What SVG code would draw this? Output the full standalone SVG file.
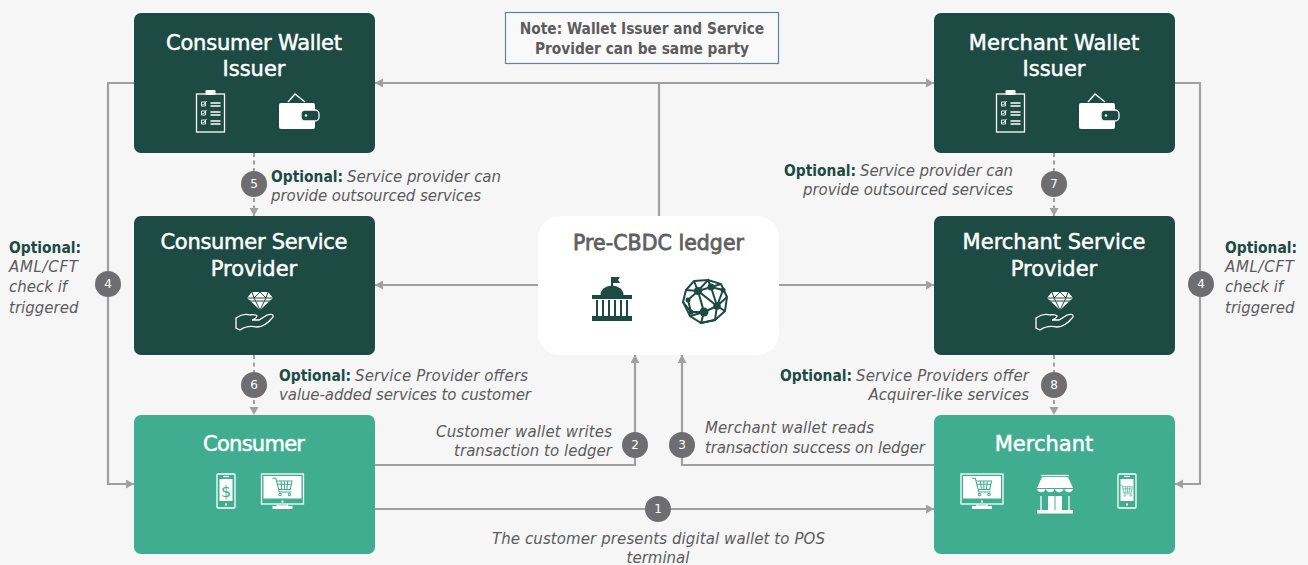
<svg xmlns="http://www.w3.org/2000/svg" width="1308" height="565" viewBox="0 0 1308 565">
<style>
text{font-family:"DejaVu Sans","Noto Sans",sans-serif}
.bg{fill:#f6f6f6}
.dk{fill:#1d4a43}.lt{fill:#40ad90}
.t{font-size:21px;font-weight:500;fill:#fff;text-anchor:middle;stroke:#fff;stroke-width:.5px}
.c{fill:none;stroke:#a0a0a0;stroke-width:2.2}
.d{stroke-dasharray:4 3.5;stroke-width:2}
.b circle{fill:#6e6e70}.b text{fill:#fff;font-size:12px;text-anchor:middle}
.l{font-size:15px;fill:#5c5c5c;font-style:italic}
.o{font-family:"DejaVu Sans Condensed","DejaVu Sans",sans-serif;font-stretch:condensed;font-size:15.4px;font-weight:bold;font-style:normal;fill:#1d4a43}
.n{font-family:"DejaVu Sans Condensed","DejaVu Sans",sans-serif;font-stretch:condensed;font-size:15.3px;font-weight:bold;fill:#5c5c5c;text-anchor:middle}
.e{text-anchor:end}.m{text-anchor:middle}
.w{fill:#fff}.wl{fill:none;stroke:#fff;stroke-width:1.3}
.gl{fill:none;stroke:#40ad90;stroke-width:1.2}
.ld{fill:#1d4a43}.ldl{fill:none;stroke:#1d4a43;stroke-width:2}
</style>
<defs>
<marker id="a" markerUnits="userSpaceOnUse" markerWidth="10" markerHeight="10" refX="8" refY="4.500" orient="auto"><path d="M0 0L8 4.500L0 9z" fill="#a0a0a0"/></marker>
<g id="clip"><rect x="-14" y="-19" width="28" height="38" class="wl"/><rect x="-5" y="-23" width="10" height="5" rx="1" class="w"/><path d="M-9-11H-5V-7H-9zM-9-2H-5V2H-9zM-9 7H-5V11H-9z" fill="none" stroke="#fff" stroke-width=".9"/><path d="M-8-9L-7-8L-4-12M-8 0L-7 1L-4-3M-8 9L-7 10L-4 6" fill="none" stroke="#fff" stroke-width=".9"/><path d="M0-10H10M0-7H10M0-1H10M0 2H10M0 8H10M0 11H10" class="wl" stroke-width="1"/></g>
<g id="wallet"><rect x="-20" y="-12" width="36" height="26" rx="2" class="w"/><rect x="2" y="-5" width="18" height="11" rx="4" class="dk" stroke="#fff" stroke-width="1.300"/><circle cx="7" cy="0.500" r="1.200" class="w"/><path d="M-11-13L-4-21L6-13" class="wl" stroke-width="1"/></g>
<g id="hand"><path d="M-19 11V21L-15 23Q-8 18 2 20Q10 20 18 10Q19 6 12 8L4 13H-3Q2 11 2 9Q0 7-5 8Q-12 6-19 11z" class="wl" stroke-width="1"/><path d="M-8-9L-3-15H13L18-9L5 3z" class="w"/><path d="M-8-9H18M-8-6H18M-1-9L5 3L11-9M-3-15L-1-9L5-15L11-9L13-15" fill="none" stroke="#1d4a43" stroke-width="1"/></g>
<g id="phone"><rect x="-9" y="-17" width="18" height="34" rx="1" class="wl"/><rect x="-6.500" y="-12" width="13" height="22" class="w"/><rect x="-1" y="12.500" width="2" height="2" class="w"/><path d="M-3-14.500H3" class="wl" stroke-width="1"/></g>
<g id="cart"><path d="M-13-9H-9L-5 7H9M-8-6H10L8 4H-6M-3-6L-2 4M1-6L1 4M5-6L4 4M-8-2H9" class="gl"/><circle cx="-4" cy="10" r="1.500" class="gl"/><circle cx="7" cy="10" r="1.500" class="gl"/></g>
<g id="mon"><rect x="-21" y="-16" width="42" height="30" class="wl" stroke-width="1"/><rect x="-19" y="-14" width="38" height="22.500" class="w"/><path d="M-5 14V16H5V14" class="wl"/><rect x="-10" y="16" width="20" height="3" class="w"/><rect x="-1" y="10.500" width="2" height="2" class="w"/><use href="#cart" transform="translate(1,-4)scale(.85)"/></g>
</defs>
<rect class="bg" width="1308" height="565"/>
<g id="connectors">
<path class="c" d="M659 216V83M659 83H375" marker-end="url(#a)"/>
<path class="c" d="M659 83H934" marker-end="url(#a)"/>
<path class="c" d="M134 83H108V484H134" marker-end="url(#a)"/>
<path class="c" d="M1175 83H1200V484H1175" marker-end="url(#a)"/>
<path class="c" d="M538 285H375" marker-end="url(#a)"/>
<path class="c" d="M779 285H934" marker-end="url(#a)"/>
<path class="c d" d="M254 153V216" marker-end="url(#a)"/>
<path class="c d" d="M254 355V415" marker-end="url(#a)"/>
<path class="c d" d="M1054 153V216" marker-end="url(#a)"/>
<path class="c d" d="M1054 355V415" marker-end="url(#a)"/>
<path class="c" d="M375 465H635V355" marker-end="url(#a)"/>
<path class="c" d="M934 465H682V355" marker-end="url(#a)"/>
<path class="c" d="M375 509H934" marker-end="url(#a)"/>
</g>
<g id="note"><rect x="505.500" y="12.500" width="273" height="51" fill="#f9f9f9" stroke="#5a87a8" stroke-width="1.200"/><text class="n" x="642" y="34">Note: Wallet Issuer and Service</text><text class="n" x="642" y="54">Provider can be same party</text></g>
<g id="consumer-wallet-issuer"><rect class="dk" x="134" y="13" width="241" height="140" rx="7"/><text class="t" x="254" y="50" textLength="176">Consumer Wallet</text><text class="t" x="254" y="76">Issuer</text><use href="#clip" x="210.500" y="113"/><use href="#wallet" x="299" y="115"/></g>
<g id="merchant-wallet-issuer"><rect class="dk" x="934" y="13" width="241" height="140" rx="7"/><text class="t" x="1054" y="50">Merchant Wallet</text><text class="t" x="1054" y="76">Issuer</text><use href="#clip" x="1010.500" y="113"/><use href="#wallet" x="1099" y="115"/></g>
<g id="consumer-service-provider"><rect class="dk" x="134" y="216" width="241" height="139" rx="7"/><text class="t" x="254" y="249" textLength="187">Consumer Service</text><text class="t" x="254" y="276">Provider</text><use href="#hand" x="255" y="307"/></g>
<g id="merchant-service-provider"><rect class="dk" x="934" y="216" width="241" height="139" rx="7"/><text class="t" x="1054" y="249">Merchant Service</text><text class="t" x="1054" y="276">Provider</text><use href="#hand" x="1055" y="307"/></g>
<g id="consumer"><rect class="lt" x="134" y="415" width="241" height="139" rx="7"/><text class="t" x="254" y="451" textLength="102">Consumer</text><use href="#phone" x="226" y="491"/><text x="226" y="497" font-size="16" text-anchor="middle" fill="#40ad90">$</text><use href="#mon" x="282.500" y="490"/></g>
<g id="merchant"><rect class="lt" x="934" y="415" width="241" height="139" rx="7"/><text class="t" x="1044" y="451">Merchant</text><use href="#mon" x="982" y="490"/>
<g transform="translate(1055,494)"><path d="M-14-18.500H14" class="wl"/><path d="M-13-17H13L18-6H-18z" class="w"/><path d="M-18-5a4.500 4.500 0 0 0 8.600 0zM-9-5a4.500 4.500 0 0 0 8.600 0zM0-5a4.500 4.500 0 0 0 8.600 0zM9.400-5a4.500 4.500 0 0 0 8.600 0z" class="w"/><path d="M-14 2V17M14 2V17" class="wl" stroke-width="1.600"/><rect x="-7" y="2" width="14" height="14" class="w"/><path d="M0 2V16" stroke="#40ad90"/><rect x="-18" y="16" width="36" height="3.500" class="w"/></g>
<use href="#phone" x="1127" y="491"/><use href="#cart" transform="translate(1127,490)scale(.55)"/></g>
<g id="pre-cbdc-ledger"><rect x="538" y="216" width="241" height="139" rx="22" fill="#fff"/><text x="658.500" y="250" text-anchor="middle" font-size="20.500" fill="#5f5f5f" stroke="#5f5f5f" stroke-width=".8" textLength="171">Pre-CBDC ledger</text>
<g transform="translate(612,300)"><path d="M0-23V-13" class="ldl" stroke-width="1.200"/><path d="M0-23H8L6-20L8-17H0z" class="ld"/><path d="M-11.500-5A11.500 9.500 0 0 1 11.500-5z" class="ld"/><rect x="-20" y="-5" width="40" height="4" class="ld"/><path d="M-15 0V16M-9 0V16M-3 0V16M3 0V16M9 0V16M15 0V16" class="ldl" stroke-width="3"/><rect x="-20" y="16" width="40" height="5" class="ld"/></g>
<g transform="translate(705,302)"><path d="M-11-21L3-22L16-18L22-5L20 9L10 18L-4 21L-15 14L-22 0L-19-12z" class="ldl" stroke-width="3"/><path d="M-7-11L6-15L18-12L12 4L-1 10L-7-11L12 4M-17-2L-7-11M-17-2L-14 10L-1 10M18-12L12 4M6-15L12 4M-1 10L-4 21L10 18L12 4M20 9L12 4M-11-21L-7-11L3-22L6-15M16-18L6-15M22-5L12 4M-19-12L-7-11M-22 0L-14 10M-15 14L-1 10" class="ldl" stroke-width="2.400"/><circle cx="-7" cy="-11" r="4" class="ld"/><circle cx="6" cy="-15" r="3.500" class="ld"/><circle cx="12" cy="4" r="3.800" class="ld"/><circle cx="-1" cy="10" r="4.500" class="ld"/><circle cx="18" cy="-12" r="2.500" class="ld"/><circle cx="-17" cy="-2" r="2.500" class="ld"/><circle cx="-14" cy="10" r="2.500" class="ld"/></g></g>
<g id="labels" class="l">
<text class="l" x="271" y="182"><tspan class="o">Optional:</tspan></text><text class="l" x="347" y="182" textLength="154">Service provider can</text><text class="l" x="271" y="201" textLength="210">provide outsourced services</text>
<text class="l" x="784" y="176"><tspan class="o">Optional:</tspan></text><text class="l" x="860" y="176" textLength="153">Service provider can</text><text class="l" x="803" y="195" textLength="210">provide outsourced services</text>
<text class="l" x="279" y="381"><tspan class="o">Optional:</tspan></text><text class="l" x="355" y="381" textLength="173">Service Provider offers</text><text class="l" x="279" y="400" textLength="252">value-added services to customer</text>
<text class="l" x="780" y="381"><tspan class="o">Optional:</tspan></text><text class="l" x="856" y="381" textLength="173">Service Providers offer</text><text class="l e" x="1029" y="400">Acquirer-like services</text>
<text class="l o" x="9" y="253">Optional:</text><text class="l" x="9" y="272" textLength="69">AML/CFT</text><text class="l" x="9" y="292">check if</text><text class="l" x="9" y="313">triggered</text>
<text class="l o" x="1225" y="253">Optional:</text><text class="l" x="1225" y="272" textLength="69">AML/CFT</text><text class="l" x="1225" y="292">check if</text><text class="l" x="1225" y="313">triggered</text>
<text class="l" x="436" y="437" textLength="176">Customer wallet writes</text><text class="l" x="454" y="456" textLength="158">transaction to ledger</text>
<text class="l" x="705" y="433" textLength="169">Merchant wallet reads</text><text class="l" x="705" y="453" textLength="220">transaction success on ledger</text>
<text class="l" x="492" y="544" textLength="333">The customer presents digital wallet to POS</text><text class="l m" x="658" y="563">terminal</text>
</g>
<g id="badges" class="b">
<g><circle cx="254" cy="184" r="13"/><text x="254" y="188">5</text></g>
<g><circle cx="254" cy="385" r="13"/><text x="254" y="389">6</text></g>
<g><circle cx="1054" cy="184" r="13"/><text x="1054" y="188">7</text></g>
<g><circle cx="1054" cy="385" r="13"/><text x="1054" y="389">8</text></g>
<g><circle cx="108" cy="284" r="13"/><text x="108" y="288">4</text></g>
<g><circle cx="1201" cy="284" r="13"/><text x="1201" y="288">4</text></g>
<g><circle cx="635" cy="445" r="13"/><text x="635" y="449">2</text></g>
<g><circle cx="682" cy="445" r="13"/><text x="682" y="449">3</text></g>
<g><circle cx="658" cy="509" r="13"/><text x="658" y="513">1</text></g>
</g>
</svg>
